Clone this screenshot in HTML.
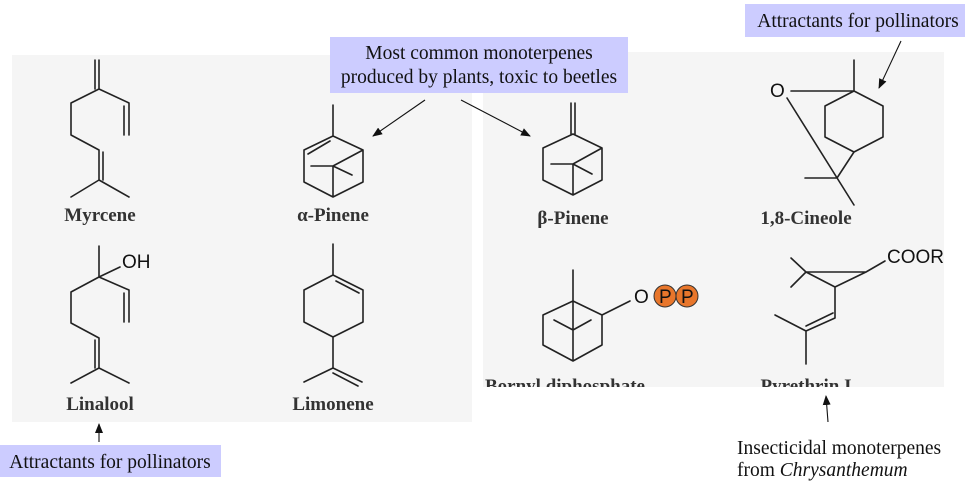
<!DOCTYPE html>
<html><head><meta charset="utf-8"><style>
html,body{margin:0;padding:0;background:#fff;}
svg{display:block;}
.b{stroke:#222;stroke-width:1.6;fill:none;stroke-linecap:round;stroke-linejoin:round;}
.lbl{font-family:"Liberation Serif",serif;font-weight:bold;font-size:19px;fill:#333;text-anchor:middle;}
.at{font-family:"Liberation Sans",sans-serif;font-size:19px;fill:#111;}
.cap{font-family:"Liberation Serif",serif;font-size:19.5px;fill:#111;}
.ar{stroke:#111;stroke-width:1.1;fill:none;}
</style></head><body>
<svg width="967" height="481" viewBox="0 0 967 481" xmlns="http://www.w3.org/2000/svg">
<defs><marker id="ah" markerWidth="10" markerHeight="8" refX="9" refY="4" orient="auto" markerUnits="userSpaceOnUse"><path d="M0,0 L10,4 L0,8 z" fill="#111"/></marker>
<clipPath id="rp"><rect x="483" y="52" width="461" height="335"/></clipPath></defs>
<rect x="12" y="55" width="460" height="367" fill="#f5f5f5"/>
<rect x="483" y="52" width="461" height="335" fill="#f5f5f5"/>

<g>
<path class="b" d="M99,60 L99,89 L71,103 L71,135 L99,150 L99,180 L71,197 M99,180 L129,197 M99,89 L129,103 L129,135 M95,60 L95,89 M124,106 L124,135 M103,152 L103,180"/>
<text class="lbl" x="100" y="221">Myrcene</text>
</g>
<g>
<path class="b" d="M333,105 L333,136 M333,136 L304,150 L304,182 L333,197 L363,182 L363,150 Z M333,197 L333,166 M311,166 L333,166 L352,175 M363,150 L333,166 M308,154 L330,141"/>
<text class="lbl" x="333" y="221">α-Pinene</text>
</g>
<g>
<path class="b" d="M99,246 L99,277 L71,292 L71,323 L99,338 L99,368 L71,383 M99,368 L129,383 M99,277 L120,267 M99,277 L129,290 L129,322 M124,293 L124,322 M95,340 L95,368"/>
<text class="at" x="122" y="268">OH</text>
<text class="lbl" x="100" y="410">Linalool</text>
</g>
<g>
<path class="b" d="M333,244 L333,275 M333,275 L363,290 L363,322 L333,337 L304,322 L304,290 Z M336,281 L359,293 M333,337 L333,368 L304,382 M333,368 L362,382 M333,373 L358,386"/>
<text class="lbl" x="333" y="410">Limonene</text>
</g>
<g>
<path class="b" d="M571,103 L571,134 M575,103 L575,134 M573,134 L543,148 L543,180 L573,195 L602,180 L602,148 Z M573,195 L573,164 M551,164 L573,164 L592,174 M602,148 L573,164"/>
<text class="lbl" x="573" y="224">β-Pinene</text>
</g>
<g>
<text class="at" x="770" y="97">O</text>
<path class="b" d="M791,91 L854,91 M854,60 L854,91 M854,91 L883,106 L883,137 L854,152 L825,137 L825,106 Z M854,152 L837,178 M805,178 L837,178 M787,98 L854,205"/>
<text class="lbl" x="806" y="224">1,8-Cineole</text>
</g>
<g clip-path="url(#rp)">
<path class="b" d="M573,270 L573,301 M573,301 L602,315 L602,345 L573,361 L543,345 L543,315 Z M573,301 L573,361 M554,320 L573,330 L591,320 M602,315 L630,301"/>
<text class="at" x="634" y="303">O</text>
<circle cx="665" cy="296" r="11" fill="#e8762b" stroke="#333"/>
<circle cx="687" cy="296" r="11" fill="#e8762b" stroke="#333"/>
<text class="at" x="659" y="303">P</text>
<text class="at" x="681" y="303">P</text>
<text class="lbl" x="485" y="392" style="text-anchor:start">Bornyl diphosphate</text>
</g>
<g clip-path="url(#rp)">
<path class="b" d="M806,272 L866,272 L835,287 Z M866,272 L885,261 M791,258 L806,272 L791,287 M835,287 L835,318 L806,331 L775,315 M806,331 L806,364 M833,313 L806,326"/>
<text class="at" x="887" y="263">COOR</text>
<text class="lbl" x="806" y="392">Pyrethrin I</text>
</g>

<rect x="330" y="37" width="298" height="56" fill="#ccccff"/>
<text class="cap" x="479" y="59" text-anchor="middle">Most common monoterpenes</text>
<text class="cap" x="479" y="83" text-anchor="middle">produced by plants, toxic to beetles</text>
<line class="ar" x1="425" y1="100" x2="373" y2="136" marker-end="url(#ah)"/>
<line class="ar" x1="461" y1="100" x2="530" y2="136" marker-end="url(#ah)"/>

<rect x="745" y="4" width="220" height="33" fill="#ccccff"/>
<text class="cap" x="858" y="27" text-anchor="middle">Attractants for pollinators</text>
<line class="ar" x1="901" y1="41" x2="879" y2="88" marker-end="url(#ah)"/>

<rect x="0" y="445" width="221" height="32" fill="#ccccff"/>
<text class="cap" x="110" y="468" text-anchor="middle">Attractants for pollinators</text>
<line class="ar" x1="99" y1="442" x2="99" y2="424" marker-end="url(#ah)"/>

<text class="cap" x="737" y="454">Insecticidal monoterpenes</text>
<text class="cap" x="737" y="476">from <tspan font-style="italic">Chrysanthemum</tspan></text>
<line class="ar" x1="828" y1="422" x2="826" y2="396" marker-end="url(#ah)"/>
</svg>
</body></html>
